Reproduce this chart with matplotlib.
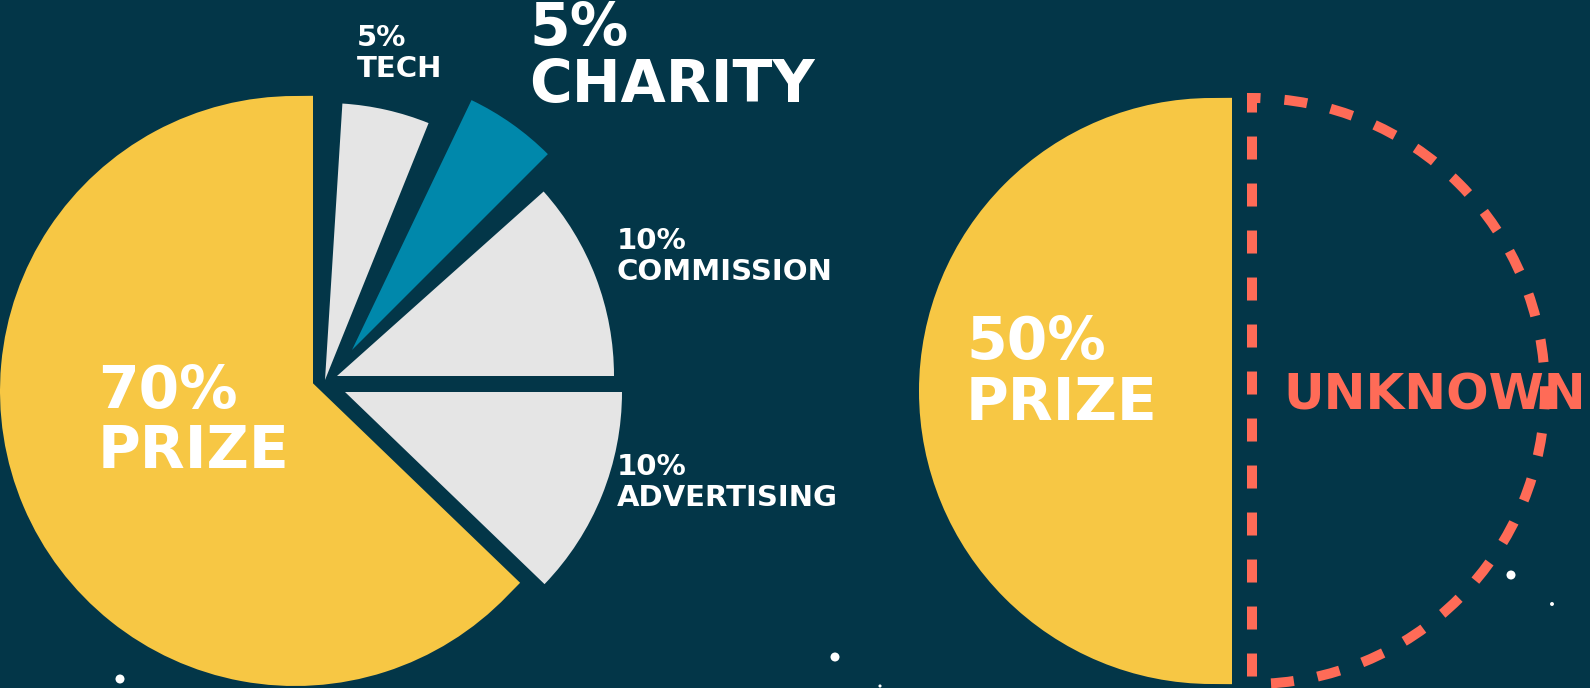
import matplotlib
matplotlib.use('Agg')
import matplotlib.pyplot as plt

W, H = 1590, 688
PT = 0.72  # points per pixel at dpi 100

BG = '#033648'
YELLOW = '#f7c744'
GREY = '#e5e5e5'
BLUE = '#0088ab'
CORAL = '#ff6b57'
WHITE = '#ffffff'

# left pie: label text and share of the circle as it is drawn (%)
left_names = ['PRIZE', 'ADVERTISING', 'COMMISSION', 'CHARITY', 'TECH']
left_pct = ['70%', '10%', '10%', '5%', '5%']
left_share = [62.8, 12.2, 11.6, 5.4, 5.1]

# right pie
right_names = ['PRIZE', 'UNKNOWN']
right_pct = ['50%', '']
right_share = [50, 50]

# little white dots in the background
star_x = [120, 835, 880, 1511, 1552]
star_y = [9, 31, 2, 113, 84]
star_size = [42, 42, 5, 42, 8]

# styling of the left pie
left_colors = [YELLOW, GREY, GREY, BLUE, GREY]
left_gap_after = [0, 0, 0.9, 1.0, 1.0]
left_shift = [(0, 0), (50, -1), (42, 15), (57, 41), (30, 11)]
left_center = (295, 297)
left_radius = 277

fig = plt.figure(figsize=(W / 100, H / 100), dpi=100, facecolor=BG)
ax = fig.add_axes([0, 0, 1, 1])
ax.set_facecolor(BG)

# left pie, with thin empty slices as spacers
values, owner = [], []
for i, (share, gap) in enumerate(zip(left_share, left_gap_after)):
    values.append(share)
    owner.append(i)
    if gap:
        values.append(gap)
        owner.append(None)

wedges, _ = ax.pie(values, startangle=90, counterclock=True, center=left_center,
                   radius=left_radius, frame=True)
for w, o in zip(wedges, owner):
    if o is None:
        w.set_visible(False)
        continue
    w.set_facecolor(left_colors[o])
    w.set_edgecolor('none')
    dx, dy = left_shift[o]
    w.set_center((left_center[0] + dx, left_center[1] + dy))
    if o == 0:
        w.set(edgecolor=YELLOW, linewidth=36 * PT, joinstyle='miter')

# right pie: known half and the dashed unknown half
rw, _ = ax.pie(right_share, startangle=90, counterclock=True, center=(1212, 297),
               radius=273, colors=[YELLOW, 'none'], frame=True)
rw[0].set(edgecolor=YELLOW, linewidth=40 * PT, joinstyle='miter')
rw[1].set(facecolor='none', edgecolor=CORAL, linewidth=10 * PT,
          linestyle=(2.8, (2.3, 2.4)))
rw[1].set_center((1252, 297))
rw[1].set_radius(293)

ax.scatter(star_x, star_y, s=star_size, c=WHITE, linewidths=0, zorder=5)

ax.set_xlim(0, W)
ax.set_ylim(0, H)
ax.set_aspect('auto')
ax.axis('off')


def label(x, y, s, size, color=WHITE):
    fig.text(x / W, 1 - y / H, s, fontsize=size, color=color, fontweight='bold',
             family='DejaVu Sans', ha='left', va='baseline')


BIG, SMALL = 42, 21
# (x, baseline of percent, baseline of name, size) for each slice label
left_label_pos = [(98, 408, 468, BIG), (617, 475, 506, SMALL), (617, 249, 280, SMALL),
                  (529, 45, 102, BIG), (357, 46, 77, SMALL)]
for (x, y1, y2, size), pct, name in zip(left_label_pos, left_pct, left_names):
    label(x, y1, pct, size)
    label(x, y2, name, size)

label(966, 359, right_pct[0], BIG)
label(966, 420, right_names[0], BIG)
label(1283, 410, right_names[1], 36, CORAL)

fig.savefig('out.png', dpi=100, facecolor=BG)
